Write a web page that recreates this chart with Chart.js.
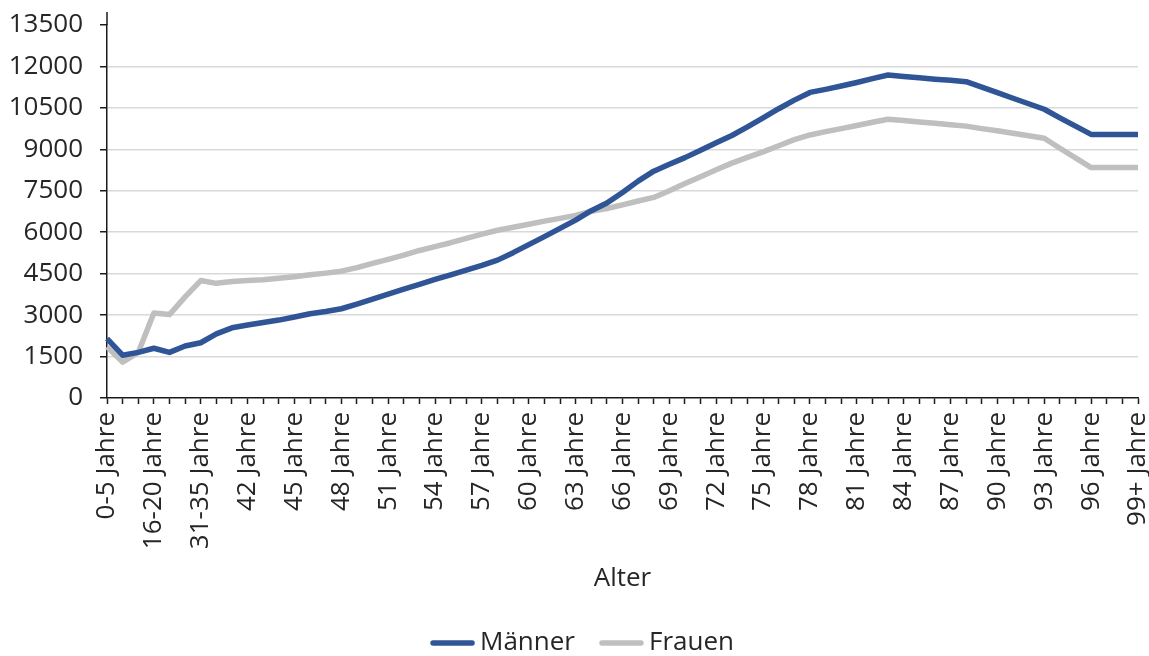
<!DOCTYPE html>
<html>
<head>
<meta charset="utf-8">
<script src="https://cdn.jsdelivr.net/npm/chart.js@4.4.1/dist/chart.umd.min.js"></script>
<style>
  html, body { margin: 0; padding: 0; background: #ffffff; }
  #wrap { width: 1149px; height: 656px; position: relative; }
</style>
</head>
<body>
<div id="wrap"><canvas id="chart"></canvas></div>
<script>
// Age groups on the x axis
const categories = [
  "0-5 Jahre", "6-10 Jahre", "11-15 Jahre", "16-20 Jahre", "21-25 Jahre", "26-30 Jahre",
  "31-35 Jahre", "36-40 Jahre", "41 Jahre", "42 Jahre", "43 Jahre", "44 Jahre",
  "45 Jahre", "46 Jahre", "47 Jahre", "48 Jahre", "49 Jahre", "50 Jahre",
  "51 Jahre", "52 Jahre", "53 Jahre", "54 Jahre", "55 Jahre", "56 Jahre",
  "57 Jahre", "58 Jahre", "59 Jahre", "60 Jahre", "61 Jahre", "62 Jahre",
  "63 Jahre", "64 Jahre", "65 Jahre", "66 Jahre", "67 Jahre", "68 Jahre",
  "69 Jahre", "70 Jahre", "71 Jahre", "72 Jahre", "73 Jahre", "74 Jahre",
  "75 Jahre", "76 Jahre", "77 Jahre", "78 Jahre", "79 Jahre", "80 Jahre",
  "81 Jahre", "82 Jahre", "83 Jahre", "84 Jahre", "85 Jahre", "86 Jahre",
  "87 Jahre", "88 Jahre", "89 Jahre", "90 Jahre", "91 Jahre", "92 Jahre",
  "93 Jahre", "94 Jahre", "95 Jahre", "96 Jahre", "97 Jahre", "98 Jahre",
  "99+ Jahre"
];

// Men
const maenner = [
  2150, 1550, 1650, 1800, 1650, 1880,
  2000, 2320, 2540, 2640, 2730, 2820,
  2930, 3050, 3130, 3230, 3400, 3580,
  3760, 3940, 4110, 4290, 4460, 4630,
  4800, 4990, 5260, 5550, 5840, 6140,
  6440, 6780, 7060, 7440, 7850, 8210,
  8460, 8700, 8970, 9240, 9500, 9810,
  10140, 10470, 10780, 11060, 11170, 11290,
  11420, 11560, 11690, 11640, 11590, 11540,
  11500, 11450, 11250, 11050, 10850, 10650,
  10450, 10140, 9840, 9540, 9540, 9540,
  9540
];

// Women
const frauen = [
  1850, 1300, 1650, 3080, 3020, 3660,
  4250, 4150, 4220, 4250, 4280, 4330,
  4390, 4460, 4520, 4590, 4720, 4870,
  5020, 5170, 5340, 5480, 5620, 5780,
  5930, 6070, 6180, 6290, 6400, 6500,
  6610, 6760, 6860, 6990, 7130, 7260,
  7500, 7760, 8010, 8260, 8500, 8710,
  8910, 9130, 9350, 9520, 9640, 9750,
  9860, 9980, 10090, 10040, 9990, 9940,
  9890, 9840, 9750, 9670, 9580, 9490,
  9400, 9040, 8690, 8340, 8340, 8340,
  8340
];

// Y axis range
const yMin = 0;
const yMax = 13500;
const yStep = 1500;

const FONT = "'Open Sans', 'Noto Sans', sans-serif";
const FONT_SIZE = 26;
const TEXT = "#262626";
const AXIS = "#1a1a1a";

const canvas = document.getElementById('chart');
canvas.width = 1149;
canvas.height = 656;

// Value axis line continues a little above the top tick
const axisOverhang = {
  id: 'axisOverhang',
  afterDraw(chart) {
    const { ctx, chartArea } = chart;
    ctx.save();
    ctx.strokeStyle = AXIS;
    ctx.lineWidth = 1.5;
    ctx.beginPath();
    ctx.moveTo(chartArea.left, chartArea.top);
    ctx.lineTo(chartArea.left, chartArea.top - 13);
    ctx.stroke();
    ctx.restore();
  }
};

// Legend drawn under the axis title: short rounded line swatch followed by the series name
const lineLegend = {
  id: 'lineLegend',
  afterDraw(chart) {
    const ctx = chart.ctx;
    const swatch = 45, gapText = 5, gapItem = 24;
    const y = 643;
    ctx.save();
    ctx.font = `${FONT_SIZE}px ${FONT}`;
    ctx.textBaseline = 'middle';
    ctx.textAlign = 'left';
    const items = chart.data.datasets.map(ds => ({
      text: ds.label, color: ds.borderColor, w: ctx.measureText(ds.label).width
    }));
    const total = items.reduce((s, it) => s + swatch + gapText + it.w, 0) + gapItem * (items.length - 1);
    let x = 582 - total / 2;
    items.forEach(it => {
      ctx.strokeStyle = it.color;
      ctx.lineWidth = 5.5;
      ctx.lineCap = 'round';
      ctx.beginPath();
      ctx.moveTo(x + 3, y);
      ctx.lineTo(x + swatch - 3, y);
      ctx.stroke();
      ctx.fillStyle = TEXT;
      ctx.fillText(it.text, x + swatch + gapText, y);
      x += swatch + gapText + it.w + gapItem;
    });
    ctx.restore();
  }
};

new Chart(canvas, {
  type: 'line',
  data: {
    labels: categories,
    datasets: [
      {
        label: 'Männer',
        data: maenner,
        borderColor: '#2F5597',
        backgroundColor: '#2F5597',
        borderWidth: 5.5,
        pointRadius: 0,
        tension: 0,
        borderJoinStyle: 'round'
      },
      {
        label: 'Frauen',
        data: frauen,
        borderColor: '#BFBFBF',
        backgroundColor: '#BFBFBF',
        borderWidth: 5.5,
        pointRadius: 0,
        tension: 0,
        borderJoinStyle: 'round'
      }
    ]
  },
  plugins: [axisOverhang, lineLegend],
  options: {
    responsive: false,
    animation: false,
    devicePixelRatio: 1,
    layout: { padding: { top: 25, right: 11, left: 0, bottom: 0 } },
    plugins: {
      tooltip: { enabled: false },
      legend: { display: false }
    },
    scales: {
      x: {
        offset: false,
        afterFit(scale) {
          scale.paddingLeft = 0;
          scale.paddingRight = 0;
          scale.height = 258;
        },
        border: { display: true, color: AXIS, width: 1.5 },
        grid: {
          drawOnChartArea: false,
          drawTicks: true,
          tickLength: 6,
          tickColor: AXIS,
          tickWidth: 1.5
        },
        ticks: {
          autoSkip: false,
          minRotation: 90,
          maxRotation: 90,
          padding: 8,
          color: TEXT,
          font: { family: FONT, size: FONT_SIZE },
          callback(value, index) {
            return index % 3 === 0 ? categories[index] : '';
          }
        },
        title: {
          display: true,
          text: 'Alter',
          color: TEXT,
          font: { family: FONT, size: FONT_SIZE },
          padding: { top: 0, bottom: 62 }
        }
      },
      y: {
        min: yMin,
        max: yMax,
        afterFit(scale) {
          scale.width = 107;
          scale.paddingTop = 0;
          scale.paddingBottom = 0;
        },
        border: { display: true, color: AXIS, width: 1.5 },
        grid: {
          color: (ctx) => (ctx.tick && (ctx.tick.value === yMax || ctx.tick.value === yMin)) ? 'rgba(0,0,0,0)' : '#D9D9D9',
          lineWidth: 1.5,
          tickLength: 7,
          tickColor: AXIS,
          tickWidth: 1.5
        },
        ticks: {
          stepSize: yStep,
          padding: 17,
          color: TEXT,
          font: { family: FONT, size: FONT_SIZE },
          callback(value) {
            return String(value);
          }
        }
      }
    }
  }
});
</script>
</body>
</html>
